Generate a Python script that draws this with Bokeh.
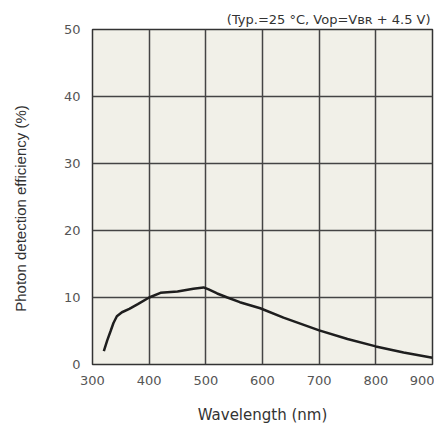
import math
from bokeh.plotting import figure
from bokeh.models import Range1d, Label, FixedTicker
from bokeh.embed import file_html
from bokeh.resources import INLINE

wavelength = [320, 326, 332, 337, 343, 352, 365, 380, 400, 420, 450, 478, 496, 505,
              520, 538, 560, 596, 637, 700, 750, 800, 849, 900]
efficiency = [2.0, 3.6, 5.0, 6.2, 7.2, 7.8, 8.3, 9.0, 10.0, 10.7, 10.9, 11.3, 11.5, 11.2,
              10.6, 10.0, 9.3, 8.4, 7.0, 5.1, 3.8, 2.7, 1.8, 1.0]
x_ticks = [300, 400, 500, 600, 700, 800, 900]
y_ticks = [0, 10, 20, 30, 40, 50]
x_title = "Wavelength (nm)"
y_title = "Photon detection efficiency (%)"
note = "(Typ.=25 \u00b0C, Vop=V\u0299\u0280 + 4.5 V)"

p = figure(width=434, height=426, output_backend="svg", toolbar_location=None,
           x_range=Range1d(300, 900), y_range=Range1d(0, 50),
           min_border_left=92, min_border_right=2, min_border_top=29, min_border_bottom=61)

p.background_fill_color = "#f1f0e8"
p.border_fill_color = "white"
p.outline_line_color = "#333333"
p.outline_line_width = 1.5

p.title.text = note
p.title.align = "right"
p.title.offset = 2
p.title.standoff = 6
p.title.text_font = "DejaVu Sans"
p.title.text_font_size = "13px"
p.title.text_font_style = "normal"
p.title.text_color = "#333333"

p.xaxis.ticker = FixedTicker(ticks=x_ticks)
p.yaxis.ticker = FixedTicker(ticks=y_ticks)
for ax in (p.xaxis, p.yaxis):
    ax.major_tick_line_color = None
    ax.minor_tick_line_color = None
    ax.axis_line_color = None
    ax.major_label_text_font = "DejaVu Sans"
    ax.major_label_text_font_size = "13px"
    ax.major_label_text_color = "#555555"
p.xaxis.major_label_standoff = 5
p.yaxis.major_label_standoff = 6

p.xaxis.axis_label = x_title
p.xaxis.axis_label_text_font = "DejaVu Sans"
p.xaxis.axis_label_text_font_size = "15px"
p.xaxis.axis_label_text_font_style = "normal"
p.xaxis.axis_label_text_color = "#333333"
p.xaxis.axis_label_standoff = 18

p.xgrid.ticker = FixedTicker(ticks=x_ticks)
p.ygrid.ticker = FixedTicker(ticks=y_ticks)
for g in (p.xgrid, p.ygrid):
    g.grid_line_color = "#444444"
    g.grid_line_width = 1.5

p.line(wavelength, efficiency, line_color="#1e1e1e", line_width=2.5)

p.add_layout(Label(x=-23, y=156, x_units="screen", y_units="screen", text=y_title,
                   angle=math.pi / 2, text_align="center", text_baseline="middle",
                   text_font="Liberation Sans", text_font_size="15px", text_color="#333333"), "left")

open("out.html", "w").write(file_html(p, INLINE))
